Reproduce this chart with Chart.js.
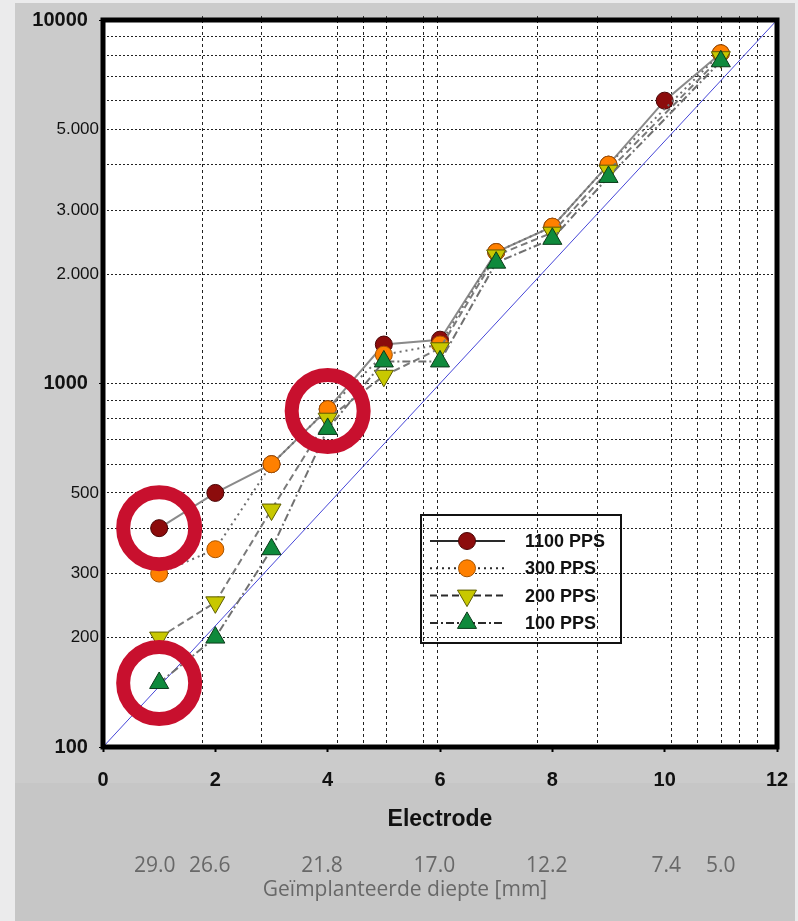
<!DOCTYPE html>
<html>
<head>
<meta charset="utf-8">
<script src="https://cdn.jsdelivr.net/npm/chart.js@4.4.1/dist/chart.umd.min.js"></script>
<style>
  html, body { margin: 0; padding: 0; background: #ebebec; }
  #wrap { position: relative; width: 798px; height: 921px; }
  canvas { display: block; }
</style>
</head>
<body>
<div id="wrap"><canvas id="chart" width="798" height="921"></canvas></div>
<script>
// Electrode numbers and threshold values per stimulation rate (log scale)
const electrodes = [1, 2, 3, 4, 5, 6, 7, 8, 9, 10, 11];
const pps1100 = [400, 500, 600, 850, 1280, 1320, 2300, 2700, 4000, 6000, 8100];
const pps300  = [300, 350, 600, 850, 1200, 1280, 2300, 2700, 4000, null, 8100];
const pps200  = [200, 250, 450, 800, 1050, 1250, 2250, 2600, 3850, null, 7900];
const pps100  = [150, 200, 350, 750, 1150, 1150, 2150, 2500, 3700, null, 7700];
const seriesNames = ['1100 PPS', '300 PPS', '200 PPS', '100 PPS'];

// Reference diagonal
const refLineX = [0, 12];
const refLineY = [100, 10000];

// Highlighted points
const highlightX = [1, 4, 1];
const highlightY = [400, 840, 150];

// Axis ticks and labels
const xTickValues = [0, 2, 4, 6, 8, 10, 12];
const xGridValues = [1.78, 2.83, 4.17, 4.63, 5.04, 5.70, 5.96, 7.74, 8.81, 10.13, 10.59, 11.02, 11.34, 11.66];
const yGridValues = [100, 200, 300, 400, 500, 600, 700, 800, 900,
                     1000, 2000, 3000, 4000, 5000, 6000, 7000, 8000, 9000, 10000];
const yLabelValues = [100, 200, 300, 500, 1000, 2000, 3000, 5000, 10000];
const yLabelTexts  = ['100', '200', '300', '500', '1000', '2.000', '3.000', '5.000', '10000'];
const yMajorValues = [100, 1000, 10000];
const xTitle = 'Electrode';

// Insertion depth under the electrode axis
const depthPositions = [0.92, 1.9, 3.9, 5.9, 7.9, 10.03, 11.0];
const depthLabels = ['29.0', '26.6', '21.8', '17.0', '12.2', '7.4', '5.0'];
const depthTitle = 'Geïmplanteerde diepte [mm]';

const toPoints = (xs, ys) => xs.map((x, i) => ({ x: x, y: ys[i] }));
const isMajor = v => yMajorValues.includes(Math.round(v));

const mainFont = '"Liberation Sans", Arial, sans-serif';

const seriesStyles = [
  { line: '#8a8a8a', width: 2, dash: [], point: 'circle', rot: 0, r: 8.5, fill: '#8c0c0c', edge: '#4a0505' },
  { line: '#6e6e6e', width: 2, dash: [2, 4], point: 'circle', rot: 0, r: 8.5, fill: '#ff8000', edge: '#a65400' },
  { line: '#7a7a7a', width: 2, dash: [7, 4], point: 'triangle', rot: 180, r: 11, fill: '#c8c800', edge: '#5c5c00' },
  { line: '#707070', width: 2, dash: [8, 3, 2, 3], point: 'triangle', rot: 0, r: 11, fill: '#0f8a3c', edge: '#0b3a1a' }
];
const seriesValues = [pps1100, pps300, pps200, pps100];

const datasets = seriesValues.map((vals, i) => {
  const s = seriesStyles[i];
  return {
    label: seriesNames[i],
    data: toPoints(electrodes, vals),
    borderColor: s.line,
    borderWidth: s.width,
    borderDash: s.dash,
    pointStyle: s.point,
    pointRotation: s.rot,
    pointRadius: s.r,
    pointBackgroundColor: s.fill,
    pointBorderColor: s.edge,
    pointBorderWidth: 1,
    spanGaps: true,
    tension: 0,
    order: 3 - i
  };
});

datasets.push({
  label: 'ref',
  data: toPoints(refLineX, refLineY),
  borderColor: '#4646d8',
  borderWidth: 1,
  pointRadius: 0,
  order: 10
});

datasets.push({
  label: 'highlight',
  data: toPoints(highlightX, highlightY),
  showLine: false,
  pointStyle: 'circle',
  pointRadius: 36,
  pointBorderWidth: 14,
  pointBorderColor: '#c8102e',
  pointBackgroundColor: 'rgba(0,0,0,0)',
  order: -1
});

// Page panels and white plot area
const backdrop = {
  id: 'backdrop',
  beforeDraw(chart) {
    const { ctx, chartArea: a } = chart;
    ctx.save();
    ctx.fillStyle = '#ebebec';
    ctx.fillRect(0, 0, chart.width, chart.height);
    ctx.fillStyle = '#cbcbcb';
    ctx.fillRect(15, 3, 780, 780);
    ctx.fillStyle = '#c6c6c6';
    ctx.fillRect(15, 783, 780, chart.height - 783);
    ctx.fillStyle = '#ffffff';
    ctx.fillRect(a.left, a.top, a.right - a.left, a.bottom - a.top);
    ctx.restore();
  }
};

// Heavy frame around the plot
const frame = {
  id: 'frame',
  afterDatasetsDraw(chart) {
    const { ctx, chartArea: a } = chart;
    ctx.save();
    ctx.strokeStyle = '#000';
    ctx.lineWidth = 5;
    ctx.strokeRect(a.left, a.top, a.right - a.left, a.bottom - a.top);
    ctx.restore();
  }
};

function drawMarker(ctx, s, x, y) {
  ctx.save();
  ctx.fillStyle = s.fill;
  ctx.strokeStyle = s.edge;
  ctx.lineWidth = 1;
  ctx.beginPath();
  if (s.point === 'circle') {
    ctx.arc(x, y, s.r, 0, Math.PI * 2);
  } else {
    const dir = s.rot === 180 ? -1 : 1;
    const r = s.r;
    ctx.moveTo(x, y - dir * r);
    ctx.lineTo(x + r * Math.sqrt(3) / 2, y + dir * r / 2);
    ctx.lineTo(x - r * Math.sqrt(3) / 2, y + dir * r / 2);
    ctx.closePath();
  }
  ctx.fill();
  ctx.stroke();
  ctx.restore();
}

// Legend box inside the plot
const legendBox = {
  id: 'legendBox',
  afterDraw(chart) {
    const { ctx } = chart;
    const bx = 421, by = 515, bw = 200, bh = 128;
    ctx.save();
    ctx.strokeStyle = '#111';
    ctx.lineWidth = 2;
    ctx.strokeRect(bx, by, bw, bh);
    seriesNames.forEach((name, i) => {
      const s = seriesStyles[i];
      const y = by + 26 + i * 27.3;
      ctx.save();
      ctx.strokeStyle = '#2a2a2a';
      ctx.lineWidth = 2;
      ctx.setLineDash(s.dash);
      ctx.beginPath();
      ctx.moveTo(430, y);
      ctx.lineTo(505, y);
      ctx.stroke();
      ctx.restore();
      drawMarker(ctx, s, 467, y);
      ctx.fillStyle = '#111';
      ctx.font = 'bold 18px ' + mainFont;
      ctx.textAlign = 'left';
      ctx.textBaseline = 'middle';
      ctx.fillText(name, 525, y + 1);
    });
    ctx.restore();
  }
};

// Insertion depth labels under the electrode axis
const depthAxis = {
  id: 'depthAxis',
  afterDraw(chart) {
    const { ctx } = chart;
    const xs = chart.scales.x;
    ctx.save();
    ctx.fillStyle = '#686868';
    ctx.textAlign = 'center';
    ctx.textBaseline = 'middle';
    ctx.font = '21px "Open Sans", "Noto Sans", sans-serif';
    depthLabels.forEach((t, i) => {
      ctx.fillText(t, xs.getPixelForValue(depthPositions[i]), 866);
    });
    ctx.font = '21px "Open Sans", "Noto Sans", sans-serif';
    ctx.fillText(depthTitle, 405, 890);
    ctx.restore();
  }
};

new Chart(document.getElementById('chart'), {
  type: 'line',
  data: { datasets: datasets },
  plugins: [backdrop, frame, legendBox, depthAxis],
  options: {
    responsive: false,
    animation: false,
    events: [],
    layout: { autoPadding: false, padding: { left: 0, top: 16, right: 21, bottom: 90 } },
    plugins: { legend: { display: false }, tooltip: { enabled: false } },
    scales: {
      x: {
        type: 'linear',
        position: 'bottom',
        min: 0,
        max: 12,
        afterBuildTicks: s => { s.ticks = xTickValues.map(v => ({ value: v })); },
        afterFit: s => { s.paddingLeft = 0; s.paddingRight = 0; },
        ticks: {
          font: { family: mainFont, size: 20, weight: 'bold' },
          color: '#111',
          padding: 16,
          maxRotation: 0,
          autoSkip: false
        },
        grid: { drawOnChartArea: false, tickLength: 5, tickColor: '#000', tickWidth: 2 },
        border: { display: false },
        title: {
          display: true,
          text: xTitle,
          font: { family: mainFont, size: 23, weight: 'bold', lineHeight: 1.0 },
          color: '#111',
          padding: { top: 0, bottom: 0 }
        }
      },
      xGrid: {
        type: 'linear',
        position: 'top',
        min: 0,
        max: 12,
        afterBuildTicks: s => { s.ticks = xGridValues.map(v => ({ value: v })); },
        afterFit: s => { s.paddingLeft = 0; s.paddingRight = 0; },
        ticks: { display: false },
        grid: { color: '#222', lineWidth: 1, tickLength: 4, tickColor: '#333' },
        border: { display: false, dash: [3, 3] }
      },
      y: {
        type: 'logarithmic',
        min: 100,
        max: 10000,
        afterBuildTicks: s => { s.ticks = yGridValues.map(v => ({ value: v })); },
        afterFit: s => { s.width = 103; s.paddingTop = 0; s.paddingBottom = 0; },
        ticks: {
          autoSkip: false,
          padding: 0,
          color: '#111',
          callback: v => {
            const i = yLabelValues.indexOf(Math.round(v));
            if (i < 0) return '';
            return isMajor(v) ? yLabelTexts[i] + '  ' : yLabelTexts[i];
          },
          font: ctx => (ctx.tick && isMajor(ctx.tick.value))
            ? { family: mainFont, size: 20, weight: 'bold' }
            : { family: mainFont, size: 17, weight: 'normal' }
        },
        grid: {
          color: '#222',
          lineWidth: 1,
          tickLength: 4,
          tickColor: ctx => (ctx.tick && isMajor(ctx.tick.value)) ? '#000' : 'rgba(0,0,0,0)'
        },
        border: { display: false, dash: [2, 2] }
      }
    }
  }
});
</script>
</body>
</html>
